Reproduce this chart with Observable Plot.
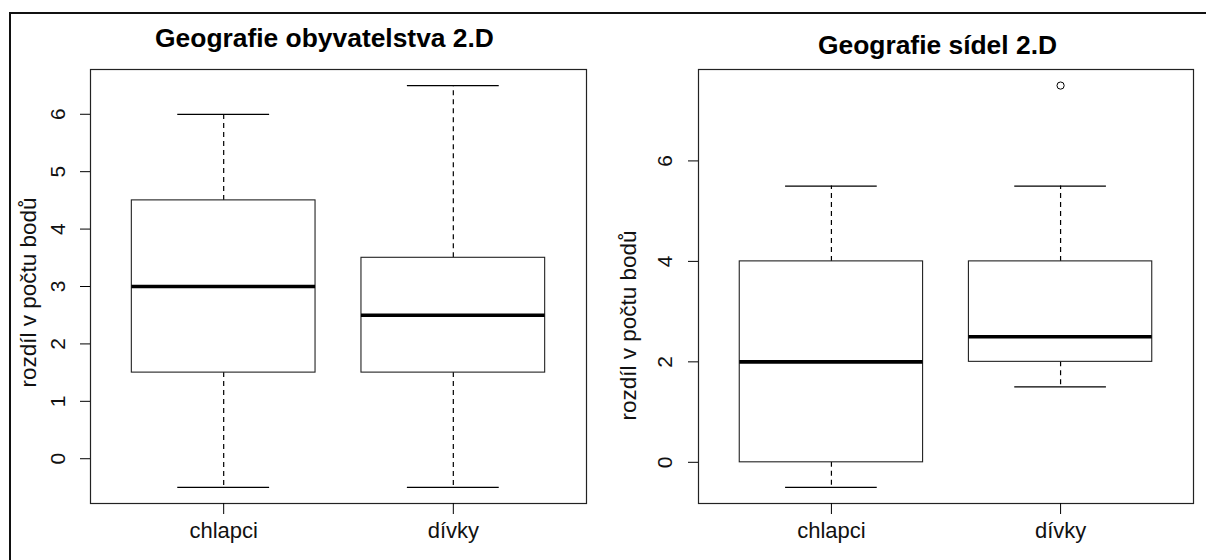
<!DOCTYPE html>
<html>
<head>
<meta charset="utf-8">
<script src="https://cdn.jsdelivr.net/npm/d3@7"></script>
<script src="https://cdn.jsdelivr.net/npm/@observablehq/plot@0.6"></script>
<style>
  html, body { margin: 0; padding: 0; background: #fff; }
  #wrap { position: relative; width: 1206px; height: 560px; overflow: hidden; background: #fff; }
  #border { position: absolute; left: 9px; top: 12px; width: 1210px; height: 560px;
            border-top: 2px solid #111; border-left: 2px solid #111; box-sizing: border-box; }
  .panel { position: absolute; top: 0; }
</style>
</head>
<body>
<div id="wrap">
  <div id="border"></div>
  <div class="panel" id="p1" style="left:0px"></div>
  <div class="panel" id="p2" style="left:603px"></div>
</div>
<script>
// ---- data ----
const categories = ["chlapci", "dívky"];
const yLabel = "rozdíl v počtu bodů";

const obyvTitle = "Geografie obyvatelstva 2.D";
const obyvMin    = [-0.5, -0.5];
const obyvQ1     = [1.5, 1.5];
const obyvMedian = [3, 2.5];
const obyvQ3     = [4.5, 3.5];
const obyvMax    = [6, 6.5];
const obyvOutlierGroup = [];
const obyvOutlierValue = [];
const obyvTicks  = [0, 1, 2, 3, 4, 5, 6];

const sidelTitle = "Geografie sídel 2.D";
const sidelMin    = [-0.5, 1.5];
const sidelQ1     = [0, 2];
const sidelMedian = [2, 2.5];
const sidelQ3     = [4, 4];
const sidelMax    = [5.5, 5.5];
const sidelOutlierGroup = ["dívky"];
const sidelOutlierValue = [7.5];
const sidelTicks  = [0, 2, 4, 6];

const FONT = "'Liberation Sans', Arial, Helvetica, sans-serif";

function panel(cfg) {
  const rows = categories.map((c, i) => ({
    cat: c, pos: i + 1,
    min: cfg.min[i], q1: cfg.q1[i], median: cfg.median[i], q3: cfg.q3[i], max: cfg.max[i]
  }));
  const outliers = cfg.outGroup.map((g, i) => ({pos: categories.indexOf(g) + 1, value: cfg.outValue[i]}));
  const all = [...cfg.min, ...cfg.max, ...cfg.outValue];
  const lo = d3.min(all), hi = d3.max(all);
  const ext = 0.04 * (hi - lo);
  const n = categories.length;
  const dash = "5,4";
  const lw = 1.2;
  return Plot.plot({
    width: 603, height: 560,
    marginLeft: cfg.marginLeft, marginRight: cfg.marginRight,
    marginTop: 69, marginBottom: 57,
    style: {fontFamily: FONT, background: "transparent", color: "#000", overflow: "visible"},
    x: {domain: [0.5 - 0.04 * n, n + 0.5 + 0.04 * n]},
    y: {domain: [lo - ext, hi + ext]},
    marks: [
      Plot.ruleX(rows, {x: "pos", y1: "q3", y2: "max", stroke: "#000", strokeWidth: lw, strokeDasharray: dash}),
      Plot.ruleX(rows, {x: "pos", y1: "q1", y2: "min", stroke: "#000", strokeWidth: lw, strokeDasharray: dash}),
      Plot.rect(rows, {x1: d => d.pos - 0.4, x2: d => d.pos + 0.4, y1: "q1", y2: "q3",
                       fill: "white", stroke: "#222", strokeWidth: 1.1}),
      Plot.ruleY(rows, {y: "median", x1: d => d.pos - 0.4, x2: d => d.pos + 0.4, stroke: "#000", strokeWidth: 3.6}),
      Plot.ruleY(rows, {y: "max", x1: d => d.pos - 0.2, x2: d => d.pos + 0.2, stroke: "#000", strokeWidth: lw}),
      Plot.ruleY(rows, {y: "min", x1: d => d.pos - 0.2, x2: d => d.pos + 0.2, stroke: "#000", strokeWidth: lw}),
      Plot.dot(outliers, {x: "pos", y: "value", r: 3.6, stroke: "#000", strokeWidth: 1, fill: "white"}),
      Plot.frame({stroke: "#222", strokeWidth: 1.2}),
      Plot.axisY({ticks: cfg.ticks, tickSize: 10, tickFormat: () => "", label: null, stroke: "#000"}),
      Plot.axisX({ticks: rows.map(d => d.pos), tickSize: 11, tickFormat: () => "", label: null, stroke: "#000"}),
      Plot.text(cfg.ticks, {y: d => d, text: d => String(d), frameAnchor: "left", dx: cfg.tickDx,
                            rotate: -90, fontSize: 21, textAnchor: "middle", lineAnchor: "middle", fill: "#111"}),
      Plot.text(rows, {x: "pos", text: "cat", frameAnchor: "bottom", dy: 34, lineAnchor: "bottom",
                       textAnchor: "middle", fontSize: 22, fill: "#111"}),
      Plot.text([yLabel], {text: d => d, frameAnchor: "left", dx: cfg.ylabDx, dy: cfg.ylabDy,
                           rotate: -90, fontSize: 22.5, textAnchor: "middle", lineAnchor: "middle", fill: "#111"}),
      Plot.text([cfg.title], {text: d => d, frameAnchor: "top", dx: cfg.titleDx, dy: cfg.titleDy,
                              lineAnchor: "bottom", textAnchor: "middle", fontSize: 26.4, fontWeight: "bold", fill: "#000"})
    ]
  });
}

document.getElementById("p1").appendChild(panel({
  title: obyvTitle, min: obyvMin, q1: obyvQ1, median: obyvMedian, q3: obyvQ3, max: obyvMax,
  outGroup: obyvOutlierGroup, outValue: obyvOutlierValue, ticks: obyvTicks,
  marginLeft: 90, marginRight: 17, tickDx: -32, ylabDx: -62, ylabDy: 6, titleDx: -14, titleDy: -23
}));
document.getElementById("p2").appendChild(panel({
  title: sidelTitle, min: sidelMin, q1: sidelQ1, median: sidelMedian, q3: sidelQ3, max: sidelMax,
  outGroup: sidelOutlierGroup, outValue: sidelOutlierValue, ticks: sidelTicks,
  marginLeft: 95, marginRight: 13, tickDx: -33, ylabDx: -70, ylabDy: 39, titleDx: -8.5, titleDy: -16
}));
</script>
</body>
</html>
